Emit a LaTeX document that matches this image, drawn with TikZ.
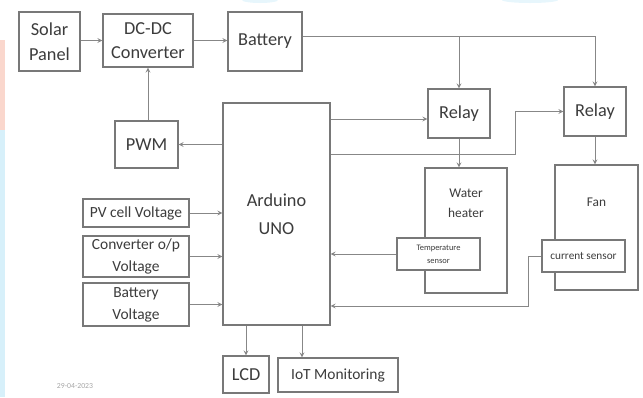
\documentclass[tikz,border=0pt]{standalone}
\usepackage{fontspec}
\setmainfont{Carlito}
\usetikzlibrary{arrows, positioning, calc}
\definecolor{boxline}{RGB}{120,120,120}
\definecolor{wireline}{RGB}{135,135,135}
\definecolor{labeltext}{RGB}{60,60,60}
\definecolor{edgecyan}{RGB}{215,240,250}
\definecolor{edgepink}{RGB}{250,215,205}

\begin{document}
\begin{tikzpicture}[
    x=0.025cm, y=-0.025cm,
    block/.style={rectangle, draw=boxline, line width=0.8pt, fill=white, inner sep=1pt, align=center, text=labeltext, font=\fontsize{13}{17.5}\selectfont},
    smallblock/.style={font=\fontsize{11}{15.5}\selectfont},
    wh/.style 2 args={minimum width=#1*0.025cm, minimum height=#2*0.025cm},
    arrow/.style={->, >=stealth, draw=wireline, line width=0.6pt}
]
    \useasboundingbox (0,0) rectangle (643,397);

    % Slide background
    \fill[edgepink] (0,40) rectangle (5,130);
    \fill[edgecyan] (0,130) rectangle (5,397);
    \fill[edgecyan!60] (260,0) ellipse (18 and 3);
    \fill[edgecyan!60] (530,0) ellipse (28 and 3);

    % Power path
    \node[block, wh={61}{59}] (solar) at (49.5,41.5) {Solar\\Panel};
    \node[block, wh={90}{53}] (dcdc) at (148,40.5) {DC-DC\\Converter};
    \node[block, wh={74}{59}] (battery) at (265,41.5) {Battery};
    \node[block, wh={63}{47}] (pwm) at (146.5,144.5) {PWM};

    % Controller
    \node[block, wh={107}{222}, font=\fontsize{13}{20}\selectfont] (arduino) at (276.5,214) {Arduino\\UNO};

    % Relays and loads
    \node[block, wh={62}{49}] (relay1) at (459,113.5) {Relay};
    \node[block, wh={62}{49}] (relay2) at (595,111.5) {Relay};
    \node[block, wh={82}{125}, label={[text=labeltext, align=center, font=\fontsize{9.5}{14}\selectfont, anchor=north, yshift=-12pt]north:Water\\heater}] (heater) at (466,230.5) {};
    \node[block, wh={83}{125}, label={[text=labeltext, font=\fontsize{9.5}{14}\selectfont, anchor=north, yshift=-20pt]north:Fan}] (fan) at (596.5,227.5) {};
    \node[block, wh={83}{32}, font=\fontsize{6}{9}\selectfont] (temp) at (438.5,254) {Temperature\\sensor};
    \node[block, wh={83}{32}, font=\fontsize{8}{10}\selectfont] (current) at (583.5,256) {current sensor};

    % Measured inputs
    \node[block, smallblock, wh={106}{28}] (pv) at (136,213) {PV cell Voltage};
    \node[block, smallblock, wh={106}{41}] (conv) at (136,256.5) {Converter o/p\\Voltage};
    \node[block, smallblock, wh={106}{43}] (batv) at (136,304.5) {Battery\\Voltage};

    % Outputs
    \node[block, wh={46}{37}] (lcd) at (246,374.5) {LCD};
    \node[block, smallblock, wh={120}{34}] (iot) at (338,375) {IoT Monitoring};

    \node[font=\fontsize{5.5}{6}\selectfont, text=black!35] (date) at (75,386) {29-04-2023};

    % Connections
    \coordinate (bus) at (459,36);
    \coordinate (r1in) at ($(relay1.west)+(0,5.5)$);
    \coordinate (r2turn) at (515,154);
    \coordinate (cturn) at (528,306);
    \coordinate (iotin) at ($(iot.north)+(-36,0)$);

    \draw[arrow] (solar.east |- dcdc) -- (dcdc.west);
    \draw[arrow] (dcdc.east) -- (dcdc.east -| battery.west);
    \draw[arrow] (pwm.north -| dcdc) -- (dcdc.south);
    \draw[arrow] (arduino.west |- pwm) -- (pwm.east);
    \draw[arrow] (battery.east |- bus) -| (relay2.north);
    \draw[arrow] (bus) -- (relay1.north);
    \draw[arrow] (arduino.east |- r1in) -- (r1in);
    \draw[arrow] (arduino.east |- r2turn) -- (r2turn) |- (relay2.west);
    \draw[arrow] (relay1.south) -- (relay1.south |- heater.north);
    \draw[arrow] (relay2.south) -- (relay2.south |- fan.north);
    \draw[arrow] (temp.west) -- (temp.west -| arduino.east);
    \draw[arrow] (current.west) -| (cturn) -- (cturn -| arduino.east);
    \draw[arrow] (pv.east) -- (pv.east -| arduino.west);
    \draw[arrow] (conv.east) -- (conv.east -| arduino.west);
    \draw[arrow] (batv.east) -- (batv.east -| arduino.west);
    \draw[arrow] (arduino.south -| lcd.north) -- (lcd.north);
    \draw[arrow] (arduino.south -| iotin) -- (iotin);
\end{tikzpicture}
\end{document}
